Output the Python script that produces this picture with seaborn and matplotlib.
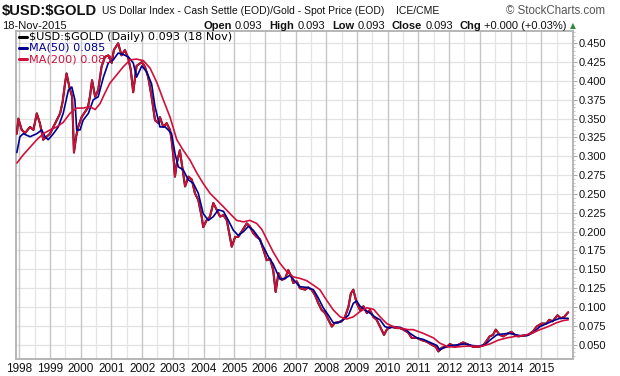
import matplotlib
matplotlib.use("Agg")
import matplotlib.pyplot as plt
from matplotlib.lines import Line2D
from matplotlib.ticker import FixedLocator, MultipleLocator, FuncFormatter
import pandas as pd
import seaborn as sns

# ---------------- data ----------------
price_year = [1997.92, 1997.97, 1998.08, 1998.19, 1998.35, 1998.46, 1998.57, 1998.67, 1998.78, 1998.89,
              1999.00, 1999.11, 1999.22, 1999.33, 1999.41, 1999.49, 1999.54, 1999.63, 1999.72, 1999.78,
              1999.85, 1999.92, 2000.03, 2000.14, 2000.23, 2000.30, 2000.37, 2000.47, 2000.57, 2000.68,
              2000.79, 2000.90, 2001.01, 2001.08, 2001.22, 2001.33, 2001.44, 2001.55, 2001.63, 2001.71,
              2001.82, 2001.99, 2002.09, 2002.20, 2002.31, 2002.42, 2002.53, 2002.58, 2002.69, 2002.80,
              2002.91, 2002.96, 2003.02, 2003.07, 2003.13, 2003.23, 2003.29, 2003.40, 2003.51, 2003.62,
              2003.72, 2003.83, 2003.94, 2003.99, 2004.10, 2004.21, 2004.32, 2004.43, 2004.54, 2004.65,
              2004.76, 2004.86, 2004.92, 2005.03, 2005.13, 2005.24, 2005.41, 2005.51, 2005.62, 2005.73,
              2005.84, 2005.95, 2006.06, 2006.17, 2006.27, 2006.35, 2006.44, 2006.55, 2006.66, 2006.76,
              2006.87, 2006.92, 2007.04, 2007.14, 2007.31, 2007.41, 2007.52, 2007.63, 2007.74, 2007.85,
              2007.96, 2008.07, 2008.18, 2008.28, 2008.39, 2008.50, 2008.61, 2008.72, 2008.80, 2008.88,
              2008.99, 2009.10, 2009.21, 2009.32, 2009.42, 2009.53, 2009.64, 2009.75, 2009.88, 2009.97,
              2010.08, 2010.18, 2010.29, 2010.40, 2010.51, 2010.67, 2010.78, 2010.95, 2011.11, 2011.27,
              2011.43, 2011.57, 2011.65, 2011.76, 2011.92, 2012.03, 2012.19, 2012.35, 2012.46, 2012.63,
              2012.79, 2012.95, 2013.11, 2013.22, 2013.32, 2013.43, 2013.52, 2013.65, 2013.76, 2013.92,
              2014.03, 2014.14, 2014.25, 2014.41, 2014.58, 2014.74, 2014.85, 2015.01, 2015.17, 2015.26,
              2015.37, 2015.53, 2015.64, 2015.75, 2015.88]
price_value = [0.330, 0.350, 0.335, 0.331, 0.339, 0.335, 0.357, 0.344, 0.322, 0.326,
               0.330, 0.339, 0.348, 0.357, 0.372, 0.397, 0.410, 0.392, 0.379, 0.305,
               0.326, 0.339, 0.352, 0.359, 0.364, 0.379, 0.401, 0.379, 0.388, 0.419,
               0.432, 0.434, 0.424, 0.441, 0.450, 0.434, 0.441, 0.430, 0.415, 0.385,
               0.420, 0.425, 0.419, 0.405, 0.379, 0.348, 0.344, 0.352, 0.339, 0.344,
               0.335, 0.322, 0.300, 0.273, 0.291, 0.308, 0.291, 0.260, 0.273, 0.269,
               0.251, 0.242, 0.220, 0.206, 0.215, 0.220, 0.238, 0.229, 0.220, 0.222,
               0.215, 0.193, 0.180, 0.193, 0.193, 0.200, 0.211, 0.207, 0.198, 0.193,
               0.190, 0.176, 0.162, 0.164, 0.149, 0.120, 0.145, 0.136, 0.138, 0.149,
               0.140, 0.132, 0.134, 0.125, 0.123, 0.126, 0.123, 0.116, 0.105, 0.096,
               0.092, 0.083, 0.074, 0.079, 0.080, 0.081, 0.087, 0.100, 0.118, 0.123,
               0.105, 0.096, 0.101, 0.092, 0.096, 0.087, 0.083, 0.074, 0.063, 0.070,
               0.074, 0.073, 0.072, 0.072, 0.070, 0.066, 0.059, 0.059, 0.056, 0.054,
               0.050, 0.047, 0.041, 0.046, 0.047, 0.051, 0.047, 0.051, 0.053, 0.050,
               0.047, 0.047, 0.049, 0.055, 0.061, 0.063, 0.070, 0.063, 0.061, 0.065,
               0.067, 0.063, 0.061, 0.062, 0.063, 0.068, 0.074, 0.078, 0.078, 0.083,
               0.081, 0.089, 0.085, 0.087, 0.093]

ma50_year = [1997.92, 1998.02, 1998.13, 1998.35, 1998.57, 1998.73, 1998.84, 1998.94, 1999.11, 1999.27,
             1999.43, 1999.60, 1999.71, 1999.81, 1999.87, 1999.98, 2000.08, 2000.25, 2000.41, 2000.57,
             2000.74, 2000.90, 2001.06, 2001.22, 2001.39, 2001.55, 2001.71, 2001.82, 2001.99, 2002.15,
             2002.31, 2002.42, 2002.58, 2002.75, 2002.85, 2002.96, 2003.07, 2003.18, 2003.34, 2003.50,
             2003.67, 2003.83, 2003.99, 2004.16, 2004.32, 2004.48, 2004.65, 2004.81, 2004.97, 2005.13,
             2005.30, 2005.46, 2005.62, 2005.78, 2005.95, 2006.11, 2006.27, 2006.40, 2006.49, 2006.65,
             2006.82, 2006.98, 2007.14, 2007.36, 2007.58, 2007.74, 2007.90, 2008.07, 2008.23, 2008.39,
             2008.55, 2008.72, 2008.88, 2008.99, 2009.10, 2009.26, 2009.42, 2009.58, 2009.75, 2009.91,
             2010.07, 2010.18, 2010.40, 2010.62, 2010.73, 2010.95, 2011.16, 2011.38, 2011.60, 2011.70,
             2011.87, 2012.08, 2012.30, 2012.52, 2012.74, 2012.95, 2013.17, 2013.33, 2013.55, 2013.71,
             2013.93, 2014.09, 2014.31, 2014.53, 2014.74, 2014.96, 2015.18, 2015.40, 2015.61, 2015.88]
ma50_value = [0.305, 0.326, 0.330, 0.326, 0.330, 0.335, 0.326, 0.322, 0.330, 0.339,
              0.357, 0.388, 0.392, 0.375, 0.335, 0.335, 0.348, 0.357, 0.375, 0.379,
              0.405, 0.424, 0.428, 0.437, 0.435, 0.432, 0.424, 0.405, 0.420, 0.412,
              0.396, 0.366, 0.339, 0.339, 0.335, 0.330, 0.304, 0.286, 0.282, 0.269,
              0.264, 0.251, 0.224, 0.215, 0.220, 0.229, 0.227, 0.215, 0.202, 0.195,
              0.200, 0.207, 0.202, 0.193, 0.180, 0.167, 0.157, 0.145, 0.137, 0.138,
              0.142, 0.134, 0.127, 0.126, 0.123, 0.112, 0.099, 0.089, 0.079, 0.079,
              0.083, 0.089, 0.105, 0.108, 0.101, 0.096, 0.092, 0.087, 0.083, 0.074,
              0.072, 0.074, 0.073, 0.069, 0.065, 0.059, 0.057, 0.053, 0.049, 0.043,
              0.047, 0.049, 0.050, 0.051, 0.049, 0.048, 0.050, 0.056, 0.063, 0.064,
              0.065, 0.064, 0.062, 0.062, 0.066, 0.074, 0.078, 0.082, 0.085, 0.085]

ma200_year = [1997.92, 1998.13, 1998.35, 1998.57, 1998.78, 1999.00, 1999.22, 1999.43, 1999.65, 1999.87,
              2000.08, 2000.30, 2000.47, 2000.63, 2000.79, 2000.95, 2001.17, 2001.39, 2001.61, 2001.82,
              2002.04, 2002.26, 2002.48, 2002.69, 2002.91, 2003.13, 2003.34, 2003.56, 2003.78, 2003.99,
              2004.21, 2004.43, 2004.65, 2004.86, 2005.08, 2005.30, 2005.51, 2005.73, 2005.90, 2006.06,
              2006.27, 2006.49, 2006.71, 2006.92, 2007.14, 2007.36, 2007.58, 2007.79, 2008.01, 2008.23,
              2008.45, 2008.66, 2008.88, 2009.10, 2009.32, 2009.54, 2009.75, 2009.97, 2010.18, 2010.40,
              2010.67, 2010.83, 2011.16, 2011.49, 2011.70, 2011.97, 2012.25, 2012.52, 2012.79, 2013.06,
              2013.33, 2013.60, 2013.88, 2014.15, 2014.41, 2014.69, 2014.96, 2015.23, 2015.49, 2015.72,
              2015.88]
ma200_value = [0.291, 0.302, 0.312, 0.322, 0.330, 0.335, 0.339, 0.345, 0.357, 0.364,
               0.364, 0.366, 0.362, 0.370, 0.384, 0.397, 0.408, 0.419, 0.428, 0.429,
               0.427, 0.417, 0.398, 0.375, 0.352, 0.322, 0.308, 0.295, 0.278, 0.264,
               0.251, 0.242, 0.233, 0.224, 0.215, 0.213, 0.215, 0.211, 0.203, 0.190,
               0.173, 0.158, 0.147, 0.140, 0.138, 0.135, 0.129, 0.123, 0.109, 0.096,
               0.087, 0.084, 0.087, 0.094, 0.099, 0.097, 0.087, 0.078, 0.074, 0.072,
               0.070, 0.070, 0.065, 0.059, 0.052, 0.047, 0.047, 0.048, 0.048, 0.048,
               0.051, 0.056, 0.059, 0.061, 0.062, 0.065, 0.070, 0.074, 0.079, 0.082,
               0.083]

year_labels = list(range(1998, 2016))
y_tick_values = [0.050, 0.075, 0.100, 0.125, 0.150, 0.175, 0.200, 0.225, 0.250,
                 0.275, 0.300, 0.325, 0.350, 0.375, 0.400, 0.425, 0.450]

title_symbol = "$USD:$GOLD"
title_desc = "US Dollar Index - Cash Settle (EOD)/Gold - Spot Price (EOD)"
exchange = "ICE/CME"
date_text = "18-Nov-2015"
legend_labels = ["$USD:$GOLD (Daily) 0.093 (18 Nov)", "MA(50) 0.085", "MA(200) 0.083"]
stats = [("Open", "0.093"), ("High", "0.093"), ("Low", "0.093"), ("Close", "0.093"),
         ("Chg", "+0.000 (+0.03%)")]

# ---------------- styling ----------------
W, H = 620, 376
RED = "#d0103a"
NAVY = "#000090"
sns.set_theme(style="white")
plt.rcParams["font.family"] = ["Liberation Sans", "DejaVu Sans"]
plt.rcParams["text.parse_math"] = False

fig = plt.figure(figsize=(W / 100, H / 100), dpi=100)
left, right, top, bottom = 16, 573, 31, 359
ax = fig.add_axes([left / W, 1 - bottom / H, (right - left) / W, (bottom - top) / H])

price_df = pd.DataFrame({"year": price_year, "value": price_value})
ma50_df = pd.DataFrame({"year": ma50_year, "value": ma50_value})
ma200_df = pd.DataFrame({"year": ma200_year, "value": ma200_value})

sns.lineplot(data=price_df, x="year", y="value", ax=ax, color="black", lw=1.5, estimator=None, zorder=3)
sns.lineplot(data=price_df, x="year", y="value", ax=ax, color=RED, lw=1.3, estimator=None, zorder=4)
sns.lineplot(data=ma50_df, x="year", y="value", ax=ax, color=NAVY, lw=1.2, estimator=None, zorder=5)
sns.lineplot(data=ma200_df, x="year", y="value", ax=ax, color=RED, lw=1.2, estimator=None, zorder=6)

x0 = 1998 + (left - 19.3) / 30.7
x1 = 1998 + (right - 19.3) / 30.7
ax.set_xlim(x0, x1)
ax.set_ylim(0.031, 0.4663)
ax.set_xlabel("")
ax.set_ylabel("")

# grid lines
for yv in y_tick_values:
    ax.axhline(yv, color="#e2e2e2", lw=0.9, zorder=1)
for yr in year_labels:
    ax.axvline(yr, color="#c6c6c6", lw=1.0, zorder=1)
    ax.axvline(yr + 0.5, color="#e4e4e4", lw=0.9, zorder=1)

ax.xaxis.set_major_locator(FixedLocator(year_labels))
ax.xaxis.set_major_formatter(FuncFormatter(lambda v, p: f"{int(round(v))}"))
ax.tick_params(axis="x", length=0, pad=3, labelsize=8.5, labelcolor="#111111")

ax.yaxis.tick_right()
ax.yaxis.set_major_locator(FixedLocator(y_tick_values))
ax.yaxis.set_minor_locator(MultipleLocator(0.005))
ax.yaxis.set_major_formatter(FuncFormatter(lambda v, p: f"{v:.3f}"))
ax.tick_params(axis="y", which="major", length=3, width=0.8, color="#aaaaaa", pad=1,
               labelsize=8, labelcolor="#111111", right=True, left=False)
ax.tick_params(axis="y", which="minor", length=1.5, width=0.6, color="#bbbbbb", right=True, left=False)

for s in ax.spines.values():
    s.set_color("#b5b5b5")
    s.set_linewidth(1.4)

# ---------------- header texts ----------------
def fx(px):
    return px / W

def fy(py):
    return 1 - py / H

fig.text(fx(2), fy(11), title_symbol, fontsize=10.6, fontweight="bold", va="center", ha="left", color="#111111")
fig.text(fx(102), fy(11), title_desc, fontsize=7.5, va="center", ha="left", color="#111111")
fig.text(fx(396), fy(11), exchange, fontsize=7.5, va="center", ha="left", color="#111111")
fig.text(fx(605), fy(11), "\u00a9 StockCharts.com", fontsize=8.3, va="center", ha="right", color="#555555")
fig.text(fx(2), fy(26), date_text, fontsize=8, va="center", ha="left", color="#111111")

renderer = fig.canvas.get_renderer()
pieces = []
for i, (lab, val) in enumerate(stats):
    pieces.append((lab, "bold", 3))
    pieces.append((val, "normal", 7 if i < len(stats) - 1 else 0))
widths = []
for txt, wt, gap in pieces:
    t = fig.text(0, 0, txt, fontsize=8, fontweight=wt)
    widths.append(t.get_window_extent(renderer).width)
    t.remove()
total = sum(widths) + sum(g for _, _, g in pieces)
xpos = 567 - total
for (txt, wt, gap), wdt in zip(pieces, widths):
    fig.text(fx(xpos), fy(26), txt, fontsize=8, fontweight=wt, va="center", ha="left", color="#111111")
    xpos += wdt + gap
fig.text(fx(573), fy(26), "\u25b2", fontsize=5.5, va="center", ha="center", color="#2e8b3a",
         family="DejaVu Sans")

# ---------------- legend ----------------
legend_colors = ["black", NAVY, RED]
for i, (lab, col) in enumerate(zip(legend_labels, legend_colors)):
    yy = 37 + i * 11
    fig.add_artist(Line2D([fx(19), fx(27)], [fy(yy), fy(yy)], color=col, lw=2.2,
                          transform=fig.transFigure))
    fig.text(fx(29), fy(yy), lab, fontsize=8.1, va="center", ha="left", color=col, family="DejaVu Sans")

fig.savefig("out.png", dpi=100)
